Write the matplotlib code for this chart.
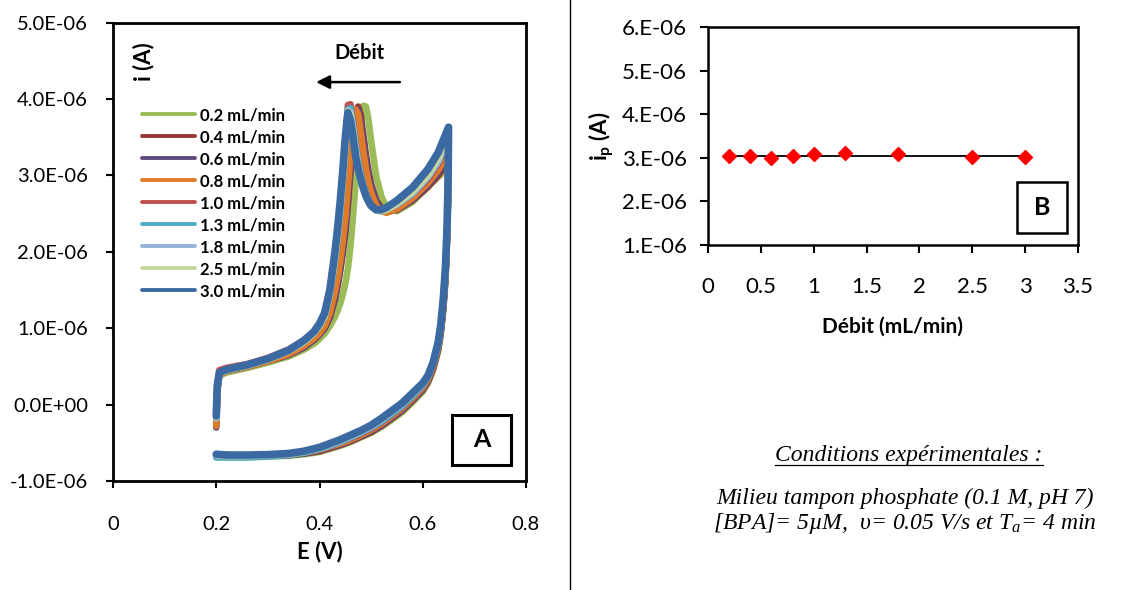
import numpy as np
import matplotlib
matplotlib.use('Agg')
import matplotlib.pyplot as plt
from matplotlib.lines import Line2D
from matplotlib.patches import Rectangle

plt.rcParams['font.family'] = ['Lato', 'DejaVu Sans']
plt.rcParams['mathtext.fontset'] = 'custom'
plt.rcParams['mathtext.it'] = 'Liberation Serif:italic'
plt.rcParams['mathtext.bf'] = 'Lato:bold'
plt.rcParams['mathtext.rm'] = 'Lato'

# ---- panel A : voltammograms (current in uA) ----
labels = ['0.2 mL/min', '0.4 mL/min', '0.6 mL/min', '0.8 mL/min', '1.0 mL/min',
          '1.3 mL/min', '1.8 mL/min', '2.5 mL/min', '3.0 mL/min']
colors = ['#9bbb59', '#953735', '#604a7b', '#e07b29', '#c0504d',
          '#4bacc6', '#95b3d7', '#c3d69b', '#3b6aa3']

E_fwd = [0.200, 0.202, 0.206, 0.22, 0.26, 0.30, 0.34, 0.37, 0.38, 0.39, 0.40, 0.41, 0.42, 0.43,
         0.435, 0.44, 0.445, 0.45, 0.455, 0.46, 0.465, 0.47, 0.475, 0.48, 0.485, 0.49, 0.495, 0.50,
         0.51, 0.52, 0.53, 0.55, 0.58, 0.61, 0.63, 0.65]
E_rev = [0.65, 0.649, 0.647, 0.644, 0.64, 0.635, 0.63, 0.62, 0.61, 0.60, 0.58, 0.56,
         0.54, 0.52, 0.50, 0.48, 0.46, 0.44, 0.42, 0.40, 0.37, 0.34, 0.30, 0.26, 0.22, 0.20]

fwd_02 = [-0.22, 0.18, 0.38, 0.42, 0.48, 0.55, 0.63, 0.72, 0.76, 0.80, 0.86, 0.93, 1.03, 1.15,
          1.23, 1.32, 1.44, 1.58, 1.78, 2.08, 2.48, 2.92, 3.36, 3.72, 3.91, 3.90, 3.72, 3.45,
          2.98, 2.72, 2.58, 2.53, 2.65, 2.85, 2.98, 3.10]
fwd_04 = [-0.25, 0.19, 0.40, 0.44, 0.50, 0.57, 0.65, 0.75, 0.80, 0.85, 0.92, 1.00, 1.14, 1.38,
          1.55, 1.75, 1.98, 2.25, 2.62, 3.05, 3.50, 3.80, 3.90, 3.78, 3.52, 3.26, 3.05, 2.88,
          2.67, 2.57, 2.53, 2.55, 2.67, 2.85, 3.00, 3.20]
fwd_06 = [-0.30, 0.18, 0.40, 0.44, 0.50, 0.57, 0.65, 0.75, 0.80, 0.85, 0.92, 1.00, 1.15, 1.40,
          1.57, 1.78, 2.02, 2.30, 2.68, 3.12, 3.55, 3.82, 3.86, 3.70, 3.45, 3.20, 3.00, 2.85,
          2.65, 2.55, 2.52, 2.55, 2.68, 2.87, 3.03, 3.25]
fwd_08 = [-0.28, 0.18, 0.40, 0.44, 0.50, 0.57, 0.66, 0.77, 0.82, 0.87, 0.94, 1.03, 1.20, 1.48,
          1.66, 1.88, 2.14, 2.45, 2.85, 3.30, 3.70, 3.86, 3.80, 3.55, 3.30, 3.08, 2.90, 2.77,
          2.60, 2.53, 2.51, 2.56, 2.70, 2.90, 3.07, 3.32]
fwd_10 = [-0.17, 0.25, 0.45, 0.48, 0.53, 0.61, 0.72, 0.84, 0.90, 0.96, 1.05, 1.18, 1.46, 1.92,
          2.20, 2.55, 2.95, 3.40, 3.92, 3.93, 3.70, 3.42, 3.20, 3.02, 2.88, 2.77, 2.69, 2.62,
          2.55, 2.54, 2.56, 2.62, 2.75, 2.95, 3.15, 3.45]
fwd_13 = [-0.18, 0.22, 0.41, 0.45, 0.51, 0.59, 0.70, 0.82, 0.88, 0.94, 1.03, 1.15, 1.43, 1.88,
          2.16, 2.50, 2.90, 3.33, 3.86, 3.88, 3.66, 3.40, 3.18, 3.01, 2.87, 2.76, 2.68, 2.61,
          2.54, 2.53, 2.55, 2.62, 2.76, 2.98, 3.18, 3.50]
fwd_18 = [-0.18, 0.22, 0.41, 0.45, 0.51, 0.59, 0.70, 0.82, 0.88, 0.94, 1.03, 1.15, 1.44, 1.90,
          2.18, 2.52, 2.92, 3.36, 3.85, 3.83, 3.62, 3.36, 3.15, 2.99, 2.86, 2.75, 2.67, 2.60,
          2.54, 2.53, 2.55, 2.62, 2.76, 2.98, 3.18, 3.50]
fwd_25 = [-0.17, 0.23, 0.41, 0.45, 0.51, 0.59, 0.70, 0.82, 0.88, 0.94, 1.03, 1.16, 1.45, 1.92,
          2.20, 2.55, 2.95, 3.40, 3.84, 3.80, 3.58, 3.32, 3.12, 2.97, 2.84, 2.74, 2.66, 2.60,
          2.54, 2.53, 2.55, 2.63, 2.78, 3.00, 3.22, 3.55]
fwd_30 = [-0.15, 0.25, 0.42, 0.46, 0.52, 0.60, 0.71, 0.84, 0.90, 0.96, 1.06, 1.20, 1.50, 2.00,
          2.30, 2.65, 3.05, 3.50, 3.82, 3.72, 3.50, 3.25, 3.08, 2.95, 2.83, 2.73, 2.66, 2.60,
          2.55, 2.55, 2.58, 2.67, 2.84, 3.08, 3.30, 3.63]

rev_02 = [3.10, 2.70, 2.15, 1.62, 1.25, 0.92, 0.70, 0.45, 0.28, 0.17, 0.03, -0.10, -0.20,
          -0.29, -0.37, -0.43, -0.49, -0.54, -0.58, -0.62, -0.65, -0.67, -0.68, -0.69, -0.69, -0.69]
rev_04 = [3.20, 2.72, 2.18, 1.66, 1.28, 0.95, 0.73, 0.47, 0.30, 0.19, 0.05, -0.08, -0.18,
          -0.28, -0.36, -0.42, -0.48, -0.53, -0.57, -0.61, -0.64, -0.66, -0.67, -0.68, -0.68, -0.68]
rev_06 = [3.25, 2.75, 2.20, 1.68, 1.30, 0.97, 0.74, 0.48, 0.31, 0.20, 0.06, -0.07, -0.17,
          -0.27, -0.35, -0.41, -0.47, -0.52, -0.56, -0.60, -0.64, -0.66, -0.67, -0.68, -0.68, -0.68]
rev_08 = [3.32, 2.78, 2.22, 1.70, 1.32, 0.99, 0.76, 0.50, 0.33, 0.22, 0.08, -0.05, -0.15,
          -0.25, -0.33, -0.40, -0.46, -0.51, -0.55, -0.59, -0.63, -0.655, -0.665, -0.67, -0.67, -0.67]
rev_10 = [3.45, 2.82, 2.25, 1.74, 1.35, 1.01, 0.78, 0.52, 0.35, 0.24, 0.10, -0.03, -0.13,
          -0.23, -0.31, -0.38, -0.44, -0.49, -0.54, -0.58, -0.62, -0.65, -0.66, -0.67, -0.67, -0.67]
rev_13 = [3.50, 2.84, 2.26, 1.76, 1.37, 1.02, 0.79, 0.53, 0.36, 0.25, 0.11, -0.02, -0.12,
          -0.22, -0.30, -0.37, -0.43, -0.49, -0.54, -0.58, -0.63, -0.66, -0.68, -0.69, -0.69, -0.69]
rev_18 = [3.50, 2.86, 2.27, 1.77, 1.38, 1.03, 0.80, 0.54, 0.37, 0.26, 0.13, 0.00, -0.10,
          -0.20, -0.29, -0.36, -0.42, -0.48, -0.53, -0.57, -0.62, -0.65, -0.665, -0.675, -0.675, -0.67]
rev_25 = [3.55, 2.88, 2.28, 1.78, 1.39, 1.04, 0.81, 0.54, 0.37, 0.27, 0.14, 0.01, -0.09,
          -0.19, -0.28, -0.35, -0.41, -0.47, -0.52, -0.57, -0.62, -0.65, -0.66, -0.67, -0.67, -0.66]
rev_30 = [3.63, 2.90, 2.30, 1.80, 1.40, 1.05, 0.82, 0.55, 0.38, 0.28, 0.15, 0.02, -0.08,
          -0.18, -0.27, -0.34, -0.40, -0.46, -0.51, -0.56, -0.61, -0.64, -0.655, -0.66, -0.66, -0.65]

fwd_all = [fwd_02, fwd_04, fwd_06, fwd_08, fwd_10, fwd_13, fwd_18, fwd_25, fwd_30]
rev_all = [rev_02, rev_04, rev_06, rev_08, rev_10, rev_13, rev_18, rev_25, rev_30]

# ---- panel B : peak current vs flow rate ----
debit = [0.2, 0.4, 0.6, 0.8, 1.0, 1.3, 1.8, 2.5, 3.0]
ip = [3.04e-6, 3.04e-6, 3.00e-6, 3.04e-6, 3.08e-6, 3.11e-6, 3.08e-6, 3.02e-6, 3.01e-6]

yticks_A = [-1e-6, 0, 1e-6, 2e-6, 3e-6, 4e-6, 5e-6]
xticks_A = [0, 0.2, 0.4, 0.6, 0.8]
yticks_B = [1e-6, 2e-6, 3e-6, 4e-6, 5e-6, 6e-6]
xticks_B = [0, 0.5, 1, 1.5, 2, 2.5, 3, 3.5]

fig = plt.figure(figsize=(11.3, 5.9), dpi=100)

# panel A
axA = fig.add_axes([113/1130, 1-481/590, 413/1130, 458.5/590])
for k in range(len(labels)):
    E = np.array(E_fwd + E_rev)
    cur = np.array(fwd_all[k] + rev_all[k]) * 1e-6
    lw = 5.5 if k == len(labels)-1 else 4.8
    axA.plot(E, cur, color=colors[k], lw=lw, solid_joinstyle='round',
             solid_capstyle='round', label=labels[k])
axA.set_xlim(0, 0.8)
axA.set_ylim(-1e-6, 5e-6)
axA.set_xticks(xticks_A)
axA.set_xticklabels(['0', '0.2', '0.4', '0.6', '0.8'])
axA.set_yticks(yticks_A)
axA.set_yticklabels(['{:.1E}'.format(v) for v in yticks_A])
axA.tick_params(axis='both', direction='out', length=5, width=1.5, labelsize=14.5)
axA.tick_params(axis='y', pad=13)
axA.tick_params(axis='x', pad=20)
for s in axA.spines.values():
    s.set_linewidth(2)
axA.set_xlabel('E (V)', fontsize=16, fontweight='bold', labelpad=6)
axA.text(0.075, 0.915, 'i (A)', transform=axA.transAxes, rotation=90, fontsize=16,
         fontweight='bold', ha='center', va='center')

leg = axA.legend(loc='upper left', bbox_to_anchor=(0.07, 0.815), frameon=False,
                 borderaxespad=0, borderpad=0, handlelength=3.2, handletextpad=0.3,
                 labelspacing=0.36, prop={'size': 12, 'weight': 'bold'})
for h in leg.get_lines():
    h.set_linewidth(2.8)

axA.annotate('', xy=(0.388, 4.22e-6), xytext=(0.561, 4.22e-6),
             arrowprops=dict(arrowstyle='-|>', color='black', lw=1.8, mutation_scale=20))
axA.text(0.478, 4.6e-6, 'Débit', fontsize=14.5, fontweight='bold', ha='center', va='center')

axA.add_patch(Rectangle((0.821, 0.035), 0.143, 0.109, transform=axA.transAxes,
                        fill=False, edgecolor='black', lw=2.2))
axA.text(0.8925, 0.0895, 'A', transform=axA.transAxes, fontsize=18, fontweight='bold',
         ha='center', va='center')

# panel B
axB = fig.add_axes([708/1130, 1-245/590, 370/1130, 218/590])
axB.plot([debit[0], debit[-1]], [np.mean(ip), np.mean(ip)], color='black', lw=1.3, zorder=2)
axB.plot(debit, ip, linestyle='none', marker='D', markersize=7.5, color='#ff0000', zorder=3)
axB.set_xlim(0, 3.5)
axB.set_ylim(1e-6, 6e-6)
axB.set_xticks(xticks_B)
axB.set_xticklabels(['0', '0.5', '1', '1.5', '2', '2.5', '3', '3.5'])
axB.set_yticks(yticks_B)
axB.set_yticklabels(['{:#.0E}'.format(v) for v in yticks_B])
axB.tick_params(axis='both', direction='out', length=6, width=1.5, labelsize=16)
axB.tick_params(axis='y', pad=9)
axB.tick_params(axis='x', pad=17)
for s in axB.spines.values():
    s.set_linewidth(1.8)
axB.set_xlabel('Débit (mL/min)', fontsize=15, fontweight='bold', labelpad=14)
axB.set_ylabel(r'$\mathbf{i_p}$ (A)', fontsize=16, fontweight='bold', labelpad=4)
axB.add_patch(Rectangle((0.835, 0.055), 0.135, 0.234, transform=axB.transAxes,
                        fill=False, edgecolor='black', lw=1.8))
axB.text(0.9025, 0.172, 'B', transform=axB.transAxes, fontsize=18, fontweight='bold',
         ha='center', va='center')

# separator
fig.add_artist(Line2D([570/1130, 570/1130], [0, 1], color='black', lw=1))

# experimental conditions
serif = ['Liberation Serif', 'DejaVu Serif']
t0 = fig.text(909/1130, 1-455/590, 'Conditions expérimentales :', family=serif,
              style='italic', fontsize=17, ha='center', va='center')
fig.text(905/1130, 1-498/590, 'Milieu tampon phosphate (0.1 M, pH 7)', family=serif,
         style='italic', fontsize=17, ha='center', va='center')
fig.text(905/1130, 1-524/590, r'[BPA]= 5µM,  υ= 0.05 V/s et T$_a$= 4 min', family=serif,
         style='italic', fontsize=17, ha='center', va='center')

fig.canvas.draw()
bb = t0.get_window_extent()
uy = (bb.y0 + 1) / 590
fig.add_artist(Line2D([bb.x0/1130, bb.x1/1130], [uy, uy], color='black', lw=0.9))

fig.savefig('out.png', dpi=100)
